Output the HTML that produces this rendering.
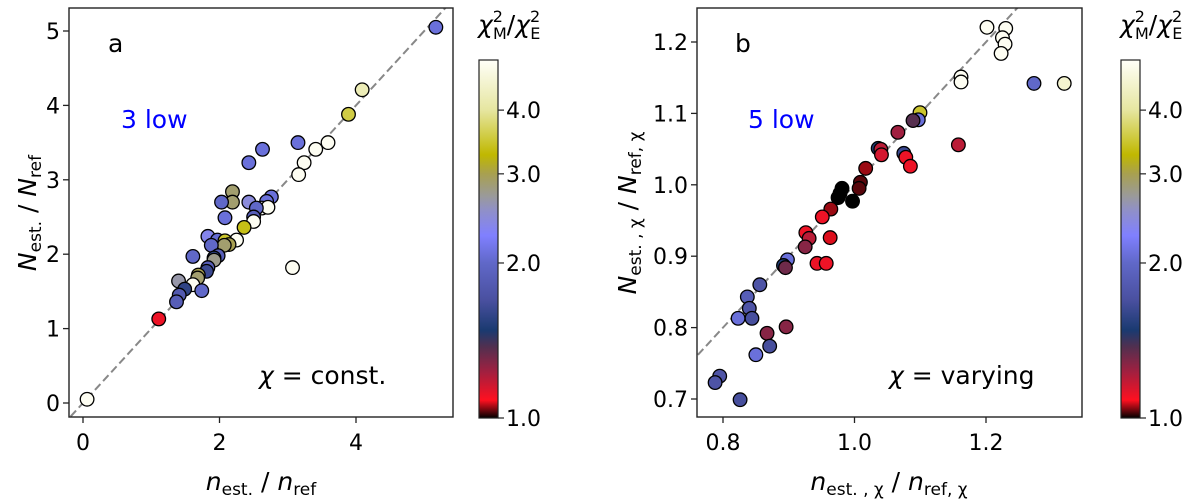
<!DOCTYPE html>
<html><head><meta charset="utf-8"><style>
html,body{margin:0;padding:0;background:#fff;}
svg{display:block;font-family:"DejaVu Sans","Liberation Sans",sans-serif;}
</style></head><body>
<svg id="c" width="1200" height="501" viewBox="0 0 1200 501" xmlns="http://www.w3.org/2000/svg">
<defs>
<linearGradient id="cmap" x1="0" y1="1" x2="0" y2="0">
<stop offset="0" stop-color="#000000"/>
<stop offset="0.05" stop-color="#ff1020"/>
<stop offset="0.13" stop-color="#a02040"/>
<stop offset="0.2" stop-color="#503050"/>
<stop offset="0.245" stop-color="#1a3a70"/>
<stop offset="0.33" stop-color="#4a50a0"/>
<stop offset="0.433" stop-color="#6068c8"/>
<stop offset="0.51" stop-color="#8080ff"/>
<stop offset="0.58" stop-color="#9090c8"/>
<stop offset="0.62" stop-color="#9a9a9a"/>
<stop offset="0.682" stop-color="#a8a050"/>
<stop offset="0.735" stop-color="#c0b800"/>
<stop offset="0.86" stop-color="#e6e6a0"/>
<stop offset="1" stop-color="#fffff8"/>
</linearGradient>
<clipPath id="clipA"><rect x="69" y="8" width="384" height="409"/></clipPath>
<clipPath id="clipB"><rect x="697" y="8" width="385" height="409"/></clipPath>
</defs>
<g id="gA"></g><g id="gB"></g>
</svg>
<script>
// Panel a data
const aX = [5.17,4.09,3.89,3.59,3.41,3.15,3.24,3.16,2.63,2.43,2.19,2.19,2.03,2.43,2.76,2.69,2.62,2.71,2.54,2.50,2.50,2.08,2.36,2.25,1.83,1.97,2.08,2.14,2.07,1.88,1.61,1.98,1.92,1.92,1.83,1.81,1.69,1.68,1.61,1.74,1.40,1.49,1.41,1.37,1.11,3.07,0.06];
const aY = [5.05,4.21,3.88,3.50,3.41,3.50,3.23,3.07,3.41,3.23,2.84,2.70,2.70,2.70,2.77,2.71,2.62,2.63,2.62,2.50,2.44,2.49,2.36,2.19,2.24,2.19,2.18,2.13,2.12,2.12,1.97,1.98,1.95,1.92,1.82,1.77,1.72,1.68,1.59,1.51,1.64,1.53,1.45,1.36,1.13,1.82,0.05];
const aC = [2.1,4.2,3.6,4.7,4.7,2.1,4.7,4.7,2.1,2.1,2.9,2.9,2.0,2.5,2.1,2.1,4.7,4.7,2.0,1.9,4.7,2.1,3.4,4.7,2.4,2.05,3.5,3.0,2.9,2.0,2.0,1.9,1.65,2.8,1.9,1.7,3.0,2.9,4.7,2.0,2.7,1.65,1.85,1.9,1.15,4.7,4.7];
// Panel b data
const bX = [1.2015,1.23,1.225,1.229,1.223,1.162,1.162,1.273,1.319,1.158,1.0996,1.097,1.089,1.066,1.075,1.078,1.085,1.036,1.040,1.041,1.017,1.009,1.007,0.981,0.978,0.975,0.997,0.964,0.951,0.963,0.926,0.931,0.925,0.943,0.957,0.898,0.892,0.895,0.856,0.837,0.840,0.844,0.823,0.867,0.896,0.871,0.850,0.795,0.788,0.826];
const bY = [1.2206,1.219,1.206,1.197,1.184,1.151,1.144,1.142,1.142,1.056,1.101,1.091,1.090,1.0735,1.044,1.0385,1.026,1.051,1.0497,1.042,1.023,1.0035,0.995,0.995,0.988,0.982,0.977,0.966,0.955,0.926,0.933,0.925,0.913,0.890,0.890,0.895,0.887,0.884,0.860,0.843,0.827,0.813,0.813,0.792,0.801,0.774,0.762,0.732,0.723,0.699];
const bC = [4.7,4.7,4.7,4.7,4.7,4.7,4.7,2.0,4.4,1.25,3.5,2.1,1.45,1.3,1.7,1.15,1.15,1.6,1.25,1.2,1.07,1.04,1.04,1.0,1.0,1.0,1.0,1.07,1.15,1.1,1.15,1.25,1.35,1.15,1.15,2.1,1.6,1.4,1.8,1.9,1.8,1.75,2.1,1.35,1.35,1.75,2.1,1.8,1.8,1.75];
const aTicksX = [0,2,4], aTicksY = [0,1,2,3,4,5];
const bTicksX = [0.8,1.0,1.2], bTicksY = [0.7,0.8,0.9,1.0,1.1,1.2];
const cbTicks = [1.0,2.0,3.0,4.0];

const NS="http://www.w3.org/2000/svg";
function mk(tag, attrs, parent, text){const e=document.createElementNS(NS,tag);for(const k in attrs)e.setAttribute(k,attrs[k]);if(text!==undefined)e.textContent=text;parent.appendChild(e);return e;}
const cvV=[1,2,3,4,4.75], cvF=[0,0.433,0.682,0.86,1];
const stops=[[0,[0,0,0]],[0.05,[255,16,32]],[0.13,[160,32,64]],[0.2,[80,48,80]],[0.245,[26,58,112]],[0.33,[74,80,160]],[0.433,[96,104,200]],[0.51,[128,128,255]],[0.58,[144,144,200]],[0.62,[154,154,154]],[0.682,[168,160,80]],[0.735,[192,184,0]],[0.86,[230,230,160]],[1,[255,255,248]]];
function frac(v){if(v<=cvV[0])return 0;for(let i=1;i<cvV.length;i++){if(v<=cvV[i]){return cvF[i-1]+(v-cvV[i-1])/(cvV[i]-cvV[i-1])*(cvF[i]-cvF[i-1]);}}return 1;}
function col(v){const f=frac(v);for(let i=1;i<stops.length;i++){if(f<=stops[i][0]){const t=(f-stops[i-1][0])/(stops[i][0]-stops[i-1][0]);const a=stops[i-1][1],b=stops[i][1];return 'rgb('+a.map((c,j)=>Math.round(c+(b[j]-c)*t)).join(',')+')';}}return '#fff';}
const cbTop=60, cbBot=418;
function cbY(v){return cbBot-frac(v)*(cbBot-cbTop);}

function panel(g, opt){
  const sx=v=>opt.x0+(v-opt.xv0)*opt.kx, sy=v=>opt.y0-(v-opt.yv0)*opt.ky;
  const dl=mk('line',{x1:sx(opt.dmin),y1:sy(opt.dmin),x2:sx(opt.dmax),y2:sy(opt.dmax),stroke:'#888','stroke-width':2,'stroke-dasharray':'8,4','clip-path':'url(#'+opt.clip+')'},g);
  
  
  for(let i=0;i<opt.X.length;i++){
    const c=mk('circle',{cx:sx(opt.X[i]),cy:sy(opt.Y[i]),r:6.8,fill:col(opt.C[i]),stroke:'#000','stroke-width':1.3,'clip-path':'url(#'+opt.clip+')'},g);
    
    
  }
  const fr=mk('rect',{x:opt.bx,y:8,width:opt.bw,height:409,fill:'none',stroke:'#222','stroke-width':1.4},g);
  
  
  opt.tx.forEach(v=>{mk('line',{x1:sx(v),y1:417,x2:sx(v),y2:423,stroke:'#222','stroke-width':1.3},g);
    const t=mk('text',{x:sx(v),y:450,'text-anchor':'middle','font-size':22},g,opt.fmt(v));
    
    });
  opt.ty.forEach(v=>{mk('line',{x1:opt.bx-6,y1:sy(v),x2:opt.bx,y2:sy(v),stroke:'#222','stroke-width':1.3},g);
    const t=mk('text',{x:opt.bx-9,y:sy(v)+8,'text-anchor':'end','font-size':22},g,opt.fmt(v));
    
    });
  const cb=mk('rect',{x:opt.cbx,y:cbTop,width:19,height:cbBot-cbTop,fill:'url(#cmap)',stroke:'#222','stroke-width':1.2},g);
  
  
  cbTicks.forEach(v=>{mk('line',{x1:opt.cbx+19,y1:cbY(v),x2:opt.cbx+25,y2:cbY(v),stroke:'#222','stroke-width':1.2},g);
    const t=mk('text',{x:opt.cbx+27,y:cbY(v)+8,'font-size':22},g,v.toFixed(1));
    
    });
  const ct=mk('text',{x:opt.cbx-1,y:33,'font-size':25},g);
  
  
  ct.innerHTML='<tspan font-style="italic">χ</tspan><tspan font-size="16" dy="-11">2</tspan><tspan font-size="16" dx="-10" dy="17">M</tspan><tspan dy="-6">/</tspan><tspan font-style="italic">χ</tspan><tspan font-size="16" dy="-11">2</tspan><tspan font-size="16" dx="-10" dy="17">E</tspan>';
}
const gA=document.getElementById('gA'), gB=document.getElementById('gB');
panel(gA,{x0:83,xv0:0,kx:68.25,y0:403,yv0:0,ky:74.4,X:aX,Y:aY,C:aC,bx:69,bw:384,clip:'clipA',dmin:-0.3,dmax:5.6,tx:aTicksX,ty:aTicksY,fmt:v=>String(v),cbx:479});
panel(gB,{x0:723,xv0:0.8,kx:657.5,y0:399,yv0:0.7,ky:714,X:bX,Y:bY,C:bC,bx:697,bw:385,clip:'clipB',dmin:0.7,dmax:1.4,tx:bTicksX,ty:bTicksY,fmt:v=>v.toFixed(1),cbx:1121});
function txt(parent,attrs,html,name){const t=mk('text',attrs,parent);t.innerHTML=html;return t;}
let t;
t=txt(gA,{x:108,y:52,'font-size':25},'a','panel-label-a');
t=txt(gA,{x:121,y:128,'font-size':25,fill:'#0000ff'},'3 low','low-count-a');
t=txt(gA,{x:259,y:384,'font-size':25},'<tspan font-style="italic">χ</tspan> = const.','condition-a');
t=txt(gB,{x:735,y:52,'font-size':25},'b','panel-label-b');
t=txt(gB,{x:748,y:128,'font-size':25,fill:'#0000ff'},'5 low','low-count-b');
t=txt(gB,{x:889,y:384,'font-size':25},'<tspan font-style="italic">χ</tspan> = varying','condition-b');
t=txt(gA,{x:261,y:490,'font-size':25,'text-anchor':'middle'},'<tspan font-style="italic">n</tspan><tspan font-size="17" dy="5">est.</tspan><tspan dy="-5"> / </tspan><tspan font-style="italic">n</tspan><tspan font-size="17" dy="5">ref</tspan>','x-axis-title-a');
t=txt(gA,{x:0,y:0,'font-size':25,'text-anchor':'middle',transform:'translate(36,213) rotate(-90)'},'<tspan font-style="italic">N</tspan><tspan font-size="17" dy="5">est.</tspan><tspan dy="-5"> / </tspan><tspan font-style="italic">N</tspan><tspan font-size="17" dy="5">ref</tspan>','y-axis-title-a');
t=txt(gB,{x:889,y:490,'font-size':25,'text-anchor':'middle'},'<tspan font-style="italic">n</tspan><tspan font-size="17" dy="5">est. , χ</tspan><tspan dy="-5"> / </tspan><tspan font-style="italic">n</tspan><tspan font-size="17" dy="5">ref, χ</tspan>','x-axis-title-b');
t=txt(gB,{x:0,y:0,'font-size':25,'text-anchor':'middle',transform:'translate(636,213) rotate(-90)'},'<tspan font-style="italic">N</tspan><tspan font-size="17" dy="5">est. , χ</tspan><tspan dy="-5"> / </tspan><tspan font-style="italic">N</tspan><tspan font-size="17" dy="5">ref, χ</tspan>','y-axis-title-b');
</script>
</body></html>
